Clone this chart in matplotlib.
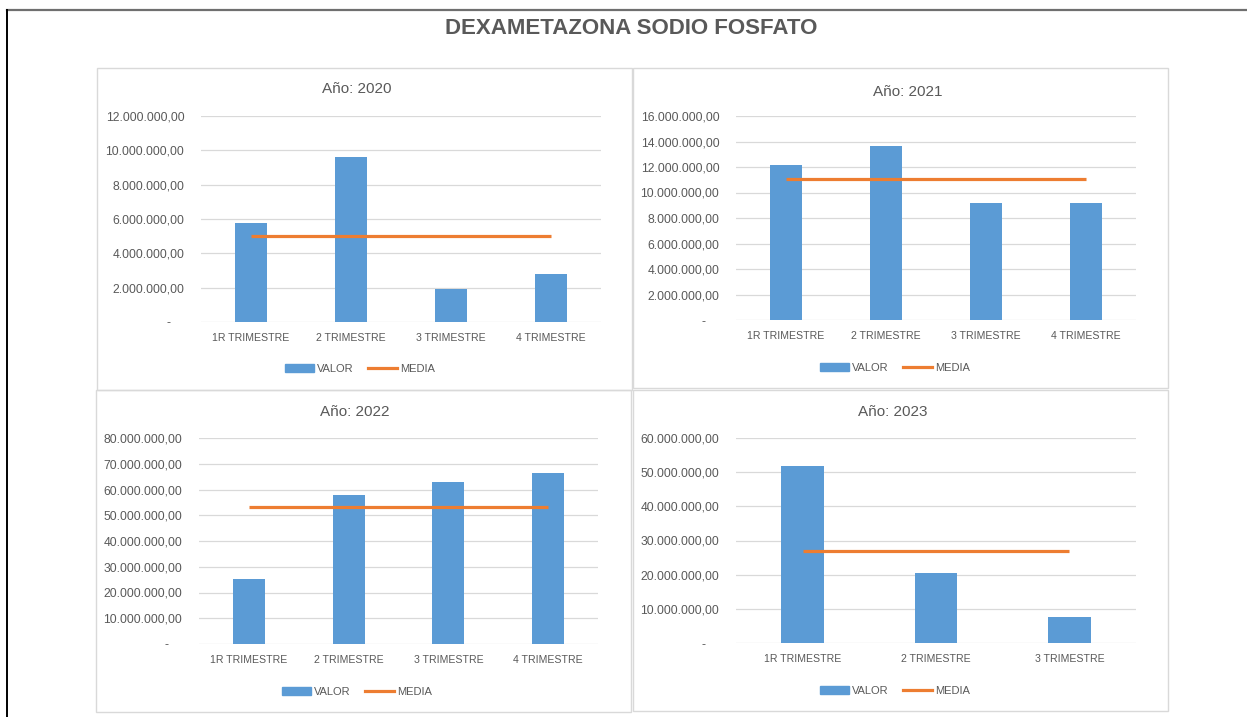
import matplotlib
matplotlib.use("Agg")
import matplotlib.pyplot as plt
from matplotlib.patches import Rectangle, Patch
from matplotlib.lines import Line2D
from matplotlib.ticker import FuncFormatter

plt.rcParams['font.family'] = ['Liberation Sans', 'DejaVu Sans']

# datos
categorias_4 = ["1R TRIMESTRE", "2 TRIMESTRE", "3 TRIMESTRE", "4 TRIMESTRE"]
categorias_3 = ["1R TRIMESTRE", "2 TRIMESTRE", "3 TRIMESTRE"]

valor_2020 = [5770000, 9610000, 1920000, 2780000]
media_2020 = [5020000, 5020000, 5020000, 5020000]

valor_2021 = [12160000, 13650000, 9200000, 9200000]
media_2021 = [11080000, 11080000, 11080000, 11080000]

valor_2022 = [25100000, 57700000, 62900000, 66300000]
media_2022 = [53300000, 53300000, 53300000, 53300000]

valor_2023 = [51700000, 20600000, 7600000]
media_2023 = [26800000, 26800000, 26800000]

W, H = 1247, 717
AZUL = "#5B9BD5"
NARANJA = "#ED7D31"
GRIS_TXT = "#595959"
GRIS_LIN = "#D9D9D9"


def fx(x):
    return x / W


def fy(y):
    return 1 - y / H


def fmt(v, pos):
    if v == 0:
        return "-    "
    s = f"{v:,.2f}"
    return s.replace(",", "X").replace(".", ",").replace("X", ".")


def panel(fig, caja, area, titulo, cats, valores, media, ymax, paso, leyenda):
    # marco del grafico
    x0, y0, x1, y1 = caja
    fig.add_artist(Rectangle((fx(x0), fy(y1)), fx(x1 - x0), (y1 - y0) / H,
                             transform=fig.transFigure, fill=False,
                             edgecolor=GRIS_LIN, lw=1.0))
    ax0, ay0, ax1, ay1 = area
    ax = fig.add_axes([fx(ax0), fy(ay1), fx(ax1 - ax0), (ay1 - ay0) / H])
    xs = list(range(len(cats)))
    ax.bar(xs, valores, width=0.32, color=AZUL, zorder=3, label="VALOR")
    ax.plot(xs, media, color=NARANJA, lw=2.3, zorder=4, label="MEDIA",
            solid_capstyle="butt")
    ax.set_xlim(-0.5, len(cats) - 0.5)
    ax.set_ylim(0, ymax)
    ax.set_yticks([i * paso for i in range(int(round(ymax / paso)) + 1)])
    ax.yaxis.set_major_formatter(FuncFormatter(fmt))
    ax.set_xticks(xs)
    ax.set_xticklabels(cats)
    ax.grid(axis="y", color=GRIS_LIN, lw=0.9, zorder=0)
    for s in ax.spines.values():
        s.set_visible(False)
    ax.tick_params(axis="y", length=0, pad=12, labelsize=8.7, labelcolor=GRIS_TXT)
    ax.tick_params(axis="x", length=0, pad=8, labelsize=7.6, labelcolor=GRIS_TXT)
    ax.set_facecolor("none")
    fig.text(fx(titulo[1]), fy(titulo[2]), titulo[0], ha="center", va="center",
             fontsize=11, color=GRIS_TXT)
    handles = [Patch(color=AZUL), Line2D([0], [0], color=NARANJA, lw=2.3)]
    fig.legend(handles, ["VALOR", "MEDIA"], loc="center",
               bbox_to_anchor=(fx(leyenda[0]), fy(leyenda[1])), ncol=2,
               frameon=False, fontsize=8, labelcolor=GRIS_TXT,
               handlelength=2.6, handleheight=0.8, handletextpad=0.3,
               columnspacing=1.3)
    return ax


def main():
    fig = plt.figure(figsize=(W / 100, H / 100), dpi=100)
    fig.patch.set_facecolor("white")

    # bordes de la hoja
    fig.add_artist(Line2D([fx(7), 1], [fy(10), fy(10)], color="#6f6f6f", lw=1.6,
                          transform=fig.transFigure))
    fig.add_artist(Line2D([fx(7), fx(7)], [fy(10), 0], color="black", lw=1.4,
                          transform=fig.transFigure))

    fig.text(fx(631), fy(28), "DEXAMETAZONA SODIO FOSFATO", ha="center",
             va="center", fontsize=16, fontweight="bold", color=GRIS_TXT)

    panel(fig, (97, 68, 632, 390), (201, 116, 601, 322), ("Año: 2020", 357, 89),
          categorias_4, valor_2020, media_2020, 12000000, 2000000, (360, 369))
    panel(fig, (633, 68, 1168, 388), (736, 116, 1136, 320), ("Año: 2021", 908, 92),
          categorias_4, valor_2021, media_2021, 16000000, 2000000, (895, 368))
    panel(fig, (96, 390, 631, 712), (199, 438, 598, 644), ("Año: 2022", 355, 412),
          categorias_4, valor_2022, media_2022, 80000000, 10000000, (357, 692))
    panel(fig, (633, 390, 1168, 711), (736, 438, 1136, 643), ("Año: 2023", 893, 412),
          categorias_3, valor_2023, media_2023, 60000000, 10000000, (895, 691))

    fig.savefig("out.png", dpi=100)


if __name__ == "__main__":
    main()
